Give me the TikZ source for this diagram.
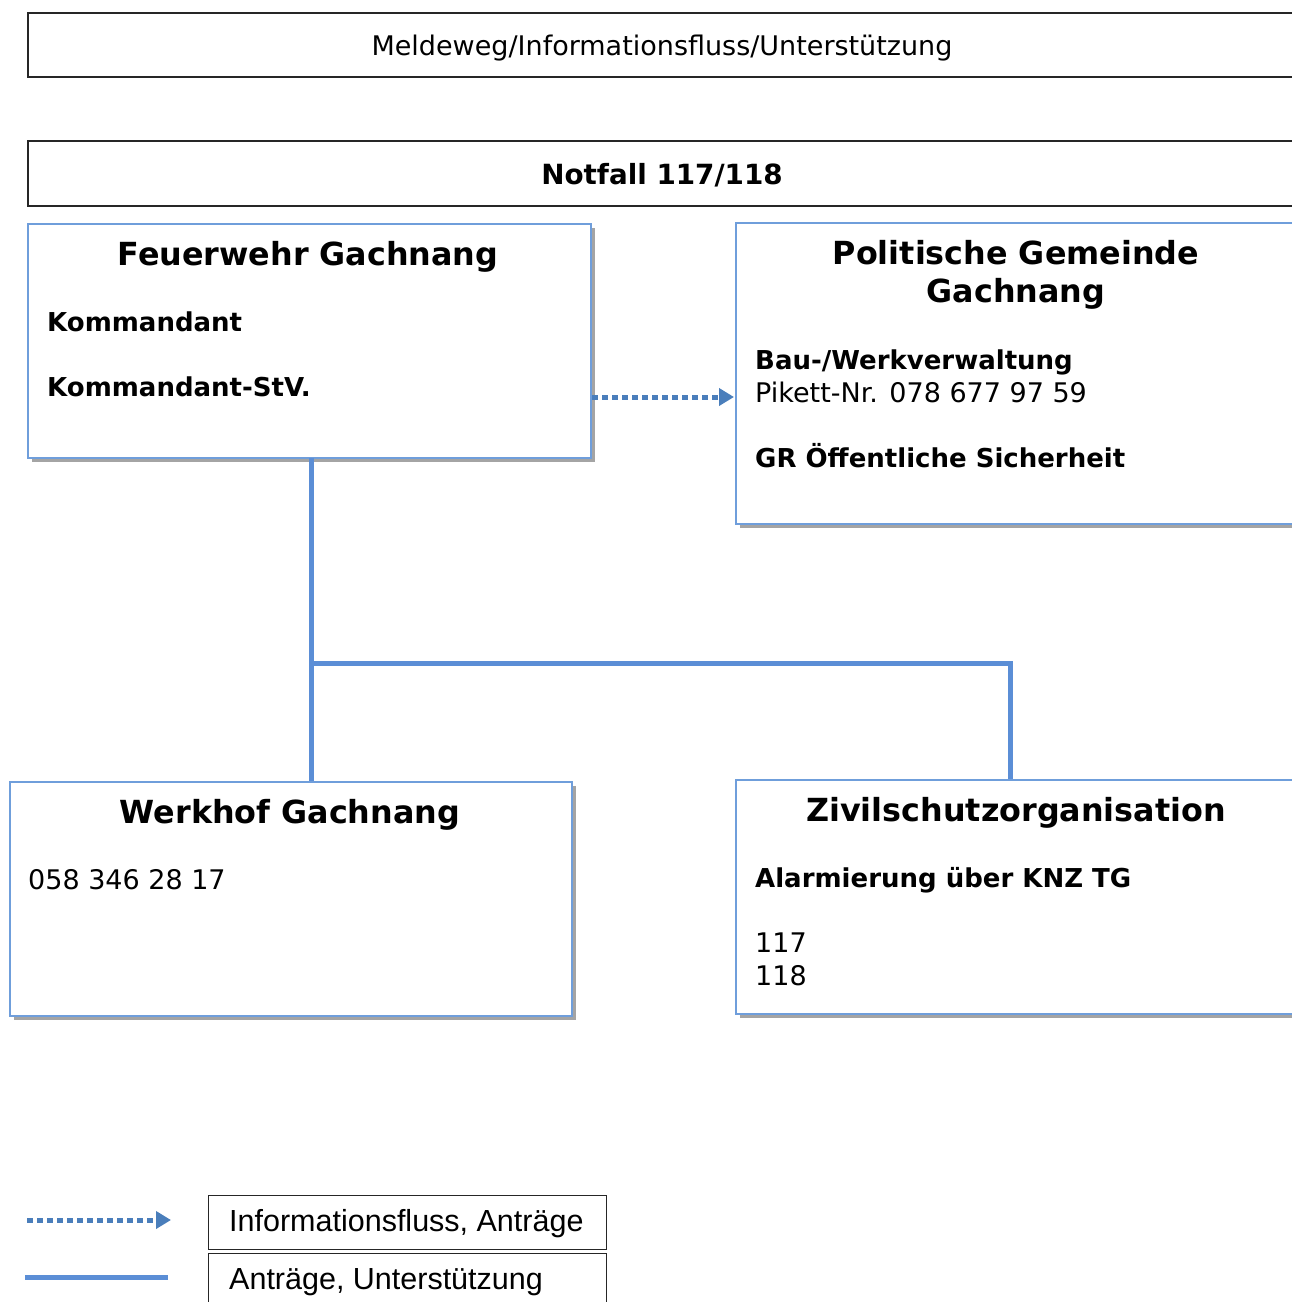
\documentclass[tikz,border=0pt]{standalone}
\usepackage{fontspec}
\setmainfont{DejaVu Sans}
\newfontfamily\legendfont{Liberation Sans}
\usetikzlibrary{arrows.meta,shadows}
\definecolor{boxblue}{HTML}{6F9EDB}
\definecolor{conblue}{HTML}{5B8ED6}
\definecolor{arrblue}{HTML}{4A7EBB}
\tikzset{
  blackbox/.style={draw=black!85, line width=1.6pt, fill=white, inner sep=0pt, anchor=north west},
  bluebox/.style={draw=boxblue, line width=1.6pt, fill=white, inner sep=0pt, anchor=north west,
    drop shadow={shadow xshift=4pt, shadow yshift=-4pt, opacity=0.55, fill=black!65}},
  title/.style={font=\fontsize{31.8}{38}\selectfont\bfseries, align=center, inner sep=0pt},
  boldtxt/.style={font=\fontsize{26}{32}\selectfont\bfseries, anchor=mid west, inner sep=0pt},
  regtxt/.style={font=\fontsize{27}{33}\selectfont, anchor=mid west, inner sep=0pt},
  headtxt/.style={font=\fontsize{27}{32}\selectfont, inner sep=0pt},
  legtxt/.style={font=\legendfont\fontsize{30.5}{36}\selectfont, anchor=mid west, inner sep=0pt},
  conn/.style={draw=conblue, line width=5pt},
  infoarrow/.style={draw=arrblue, line width=5pt, dash pattern=on 5.5pt off 4.5pt,
    -{Triangle[length=15pt,width=17pt,fill=arrblue]}},
}
\begin{document}
\begin{tikzpicture}[x=1pt,y=-1pt]
\useasboundingbox (0,0) rectangle (1292,1302);
\clip (0,0) rectangle (1292,1302);
% header boxes
\node[blackbox, minimum width=1300pt, minimum height=64pt] (hdr1) at (27,12) {};
\node[headtxt] (hdr1t) at (662,48) {Meldeweg/Informationsfluss/Unterstützung};
\node[blackbox, minimum width=1300pt, minimum height=65pt] (hdr2) at (27,140) {};
\node[headtxt, font=\fontsize{27.8}{32}\selectfont\bfseries] (hdr2t) at (662,175) {Notfall 117/118};
% Feuerwehr
\node[bluebox, minimum width=563pt, minimum height=234pt] (fw) at (27,223) {};
\node[title] (fwt) at (308,257) {Feuerwehr Gachnang};
\node[boldtxt] (fw1) at (47,329) {Kommandant};
\node[boldtxt] (fw2) at (47,394) {Kommandant-StV.};
% Politische Gemeinde
\node[bluebox, minimum width=600pt, minimum height=301pt] (pg) at (735,222) {};
\node[title] (pgt) at (1016,275) {Politische Gemeinde\\[-0.5pt]Gachnang};
\node[boldtxt] (pg1) at (755,367) {Bau-/Werkverwaltung};
\node[regtxt] (pg2) at (755,400) {Pikett-Nr. 078 677 97 59};
\node[boldtxt] (pg3) at (755,465) {GR Öffentliche Sicherheit};
% Werkhof
\node[bluebox, minimum width=562pt, minimum height=234pt] (wh) at (9,781) {};
\node[title] (wht) at (290,815) {Werkhof Gachnang};
\node[regtxt] (wh1) at (28,887) {058 346 28 17};
% Zivilschutz
\node[bluebox, minimum width=600pt, minimum height=234pt] (zs) at (735,779) {};
\node[title] (zst) at (1016,813) {Zivilschutzorganisation};
\node[boldtxt] (zs1) at (755,885) {Alarmierung über KNZ TG};
\node[regtxt] (zs2) at (755,950) {117};
\node[regtxt] (zs3) at (755,983) {118};
% connectors
\coordinate (fwb) at (311,458);
\coordinate (whtop) at (311,781);
\coordinate (jn) at (311,663);
\coordinate (zsc) at (1010,663);
\coordinate (zstop) at (1010,779);
\draw[conn] (fwb) -- (whtop);
\draw[conn] (jn) -- (zsc) -- (zstop);
\coordinate (arrS) at (592,397);
\coordinate (arrE) at (734,397);
\draw[infoarrow] (arrS) -- (arrE);
% legend
\coordinate (l1s) at (27,1220);
\coordinate (l1e) at (171,1220);
\draw[infoarrow] (l1s) -- (l1e);
\coordinate (l2s) at (25,1277);
\coordinate (l2e) at (168,1277);
\draw[conn] (l2s) -- (l2e);
\node[blackbox, line width=1.3pt, minimum width=398pt, minimum height=54pt] (lb1) at (208,1195) {};
\node[legtxt] (lb1t) at (229,1229) {Informationsfluss, Anträge};
\node[blackbox, line width=1.3pt, minimum width=398pt, minimum height=60pt] (lb2) at (208,1253) {};
\node[legtxt] (lb2t) at (229,1287) {Anträge, Unterstützung};
\end{tikzpicture}
\end{document}
